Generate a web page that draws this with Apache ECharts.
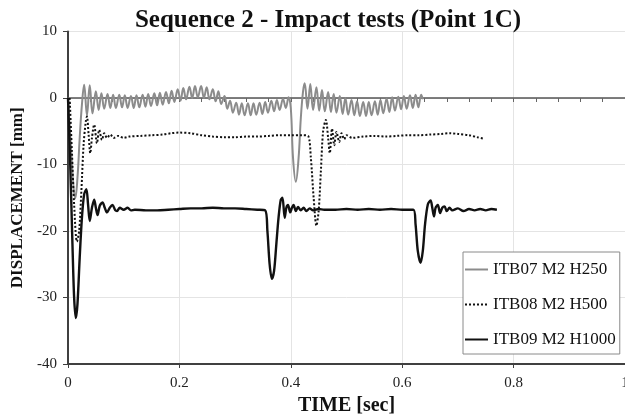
<!DOCTYPE html>
<html>
<head>
<meta charset="utf-8">
<script src="https://cdn.jsdelivr.net/npm/echarts@6/dist/echarts.min.js"></script>
<style>
html,body{margin:0;padding:0;background:#fff;}
#chart{width:625px;height:418px;}
</style>
</head>
<body>
<div id="chart"></div>
<script>
// ---- Data ----
const seriesNames = ['ITB07 M2 H250', 'ITB08 M2 H500', 'ITB09 M2 H1000'];
const xTickLabels = ['0', '0.2', '0.4', '0.6', '0.8', '1'];
const yTickLabels = ['-40', '-30', '-20', '-10', '0', '10'];

// ITB07 M2 H250 (grey, solid)
const itb07Time = [
  0, 0.005, 0.010, 0.013, 0.017, 0.021, 0.025, 0.029,
  0.034, 0.039, 0.044, 0.050, 0.055, 0.060, 0.065, 0.071, 0.076, 0.081,
  0.086, 0.092, 0.097, 0.102, 0.107, 0.113, 0.118, 0.123, 0.128, 0.134,
  0.139, 0.144, 0.149, 0.155, 0.160, 0.165, 0.170, 0.176, 0.181, 0.186,
  0.191, 0.197, 0.202, 0.207, 0.212, 0.218, 0.223, 0.228, 0.233, 0.239,
  0.244, 0.249, 0.254, 0.260, 0.265, 0.270, 0.275, 0.281, 0.286, 0.291,
  0.296, 0.302, 0.307, 0.312, 0.317, 0.323, 0.328, 0.333, 0.338, 0.344,
  0.349, 0.354, 0.359, 0.365, 0.370, 0.375, 0.380, 0.386, 0.391, 0.396,
  0.400, 0.404, 0.409, 0.414, 0.418, 0.422, 0.425,
  0.430, 0.435, 0.440, 0.446, 0.451, 0.456, 0.461, 0.467, 0.472, 0.477,
  0.482, 0.488, 0.493, 0.498, 0.503, 0.509, 0.514, 0.519, 0.524, 0.530,
  0.535, 0.540, 0.545, 0.551, 0.556, 0.561, 0.566, 0.572, 0.577, 0.582,
  0.587, 0.593, 0.598, 0.603, 0.608, 0.614, 0.619, 0.624, 0.629, 0.634, 0.637
];
const itb07Disp = [
  0, -7, -13.5, -15.1, -12, -6, -1, 2.0,
  -2.6, 1.9, -2.3, 1.0, -1.8, 0.7, -1.6, 0.6, -1.5, 0.5,
  -1.5, 0.5, -1.4, 0.4, -1.5, 0.3, -1.5, 0.4, -1.4, 0.5,
  -1.3, 0.6, -1.2, 0.7, -1.1, 0.8, -1.0, 0.9, -0.8, 1.1,
  -0.6, 1.3, -0.4, 1.5, -0.2, 1.7, 0.0, 1.8, 0.1, 1.8,
  0.0, 1.6, -0.2, 1.3, -0.5, 1.0, -0.9, 0.3, -1.6, -0.4,
  -2.2, -0.7, -2.5, -0.8, -2.6, -0.8, -2.6, -0.8, -2.5, -0.7,
  -2.4, -0.6, -2.2, -0.4, -2.0, -0.3, -1.8, -0.1, -1.5, 0.1,
  -1.5, -9, -12.6, -9, -3, 1, 2.2,
  -1.6, 2.1, -1.8, 1.6, -1.9, 1.2, -2.0, 0.9, -2.1, 0.6,
  -2.2, 0.3, -2.4, 0.0, -2.5, -0.3, -2.6, -0.5, -2.7, -0.6,
  -2.7, -0.6, -2.6, -0.5, -2.5, -0.3, -2.3, -0.1, -2.1, 0.1,
  -1.9, 0.2, -1.7, 0.3, -1.6, 0.4, -1.5, 0.5, -1.4, 0.5, -0.2
];

// ITB08 M2 H500 (black, dotted)
const itb08Time = [
  0.003, 0.007, 0.011, 0.016, 0.020, 0.024, 0.028, 0.032, 0.034, 0.037,
  0.040, 0.043, 0.047, 0.052, 0.056, 0.061, 0.065, 0.070, 0.076, 0.082,
  0.090, 0.100, 0.110, 0.130, 0.150, 0.170, 0.185, 0.200, 0.220, 0.240,
  0.260, 0.280, 0.300, 0.320, 0.340, 0.360, 0.380, 0.400, 0.420, 0.431,
  0.436, 0.441, 0.446, 0.450, 0.454, 0.458, 0.463, 0.467, 0.470, 0.474,
  0.478, 0.482, 0.487, 0.491, 0.496, 0.500, 0.510, 0.530, 0.550, 0.570,
  0.590, 0.610, 0.630, 0.650, 0.670, 0.686, 0.700, 0.720, 0.735, 0.746
];
const itb08Disp = [
  0, -8, -16, -21.6, -20, -14, -7, -3.5, -2.8, -5.5,
  -8.3, -6, -4.0, -6.8, -4.8, -6.3, -5.3, -6.0, -5.5, -6.0,
  -5.7, -6.0, -5.8, -5.7, -5.6, -5.5, -5.3, -5.2, -5.3, -5.6,
  -5.8, -5.9, -5.9, -5.8, -5.8, -5.7, -5.6, -5.6, -5.6, -5.7,
  -9, -15, -19.2, -17, -11, -5, -3.3, -6, -8.3, -4.6,
  -7.1, -5.1, -6.6, -5.3, -6.2, -5.6, -6.0, -5.8, -5.7, -5.8,
  -5.7, -5.6, -5.6, -5.5, -5.4, -5.3, -5.4, -5.6, -5.9, -6.1
];

// ITB09 M2 H1000 (black, solid)
const itb09Time = [
  0, 0.004, 0.008, 0.011, 0.014, 0.017, 0.021, 0.025, 0.029, 0.033,
  0.036, 0.039, 0.043, 0.047, 0.050, 0.053, 0.057, 0.062, 0.066, 0.070,
  0.075, 0.080, 0.085, 0.088, 0.093, 0.100, 0.107, 0.113, 0.120, 0.140,
  0.160, 0.180, 0.200, 0.220, 0.240, 0.260, 0.280, 0.300, 0.320, 0.340,
  0.354, 0.358, 0.362, 0.366, 0.370, 0.374, 0.378, 0.382, 0.385, 0.389,
  0.392, 0.395, 0.399, 0.402, 0.405, 0.409, 0.413, 0.418, 0.423, 0.428,
  0.434, 0.440, 0.450, 0.460, 0.480, 0.500, 0.520, 0.540, 0.560, 0.580,
  0.600, 0.620, 0.624, 0.628, 0.633, 0.637, 0.641, 0.646, 0.651, 0.654,
  0.657, 0.660, 0.664, 0.668, 0.672, 0.676, 0.680, 0.685, 0.690, 0.700,
  0.710, 0.720, 0.730, 0.740, 0.750, 0.760, 0.770
];
const itb09Disp = [
  0, -10, -22, -30, -33.1, -31, -24, -18, -14.5, -13.7,
  -16, -18.5, -16.5, -15.3, -16.5, -17.6, -16.2, -15.7, -16.5, -17.2,
  -16.5, -16.1, -16.9, -17.0, -16.5, -16.8, -16.5, -16.9, -16.8, -16.9,
  -16.9, -16.8, -16.7, -16.6, -16.6, -16.5, -16.6, -16.6, -16.7, -16.8,
  -16.9, -20, -25, -27.2, -26, -22, -18, -15.3, -15.0, -18.0,
  -16.5, -16.1, -17.2, -16.5, -16.1, -17.0, -16.4, -16.9, -16.5, -17.0,
  -16.6, -16.9, -16.7, -16.8, -16.8, -16.7, -16.8, -16.7, -16.8, -16.7,
  -16.8, -16.8, -19, -23, -24.8, -23, -19, -16, -15.4, -16.5,
  -17.8, -16.5, -16.1, -17.3, -16.5, -16.3, -17.0, -16.5, -16.9, -16.6,
  -17.0, -16.7, -16.9, -16.7, -16.9, -16.7, -16.8
];

// ---- Build ----
function zip(t, v) { return t.map((x, i) => [x, v[i]]); }
const FONT = '"Liberation Serif", "DejaVu Serif", serif';
const chart = echarts.init(document.getElementById('chart'), null, {renderer: 'canvas'});

chart.setOption({
  animation: false,
  backgroundColor: '#ffffff',
  title: {
    text: 'Sequence 2 - Impact tests (Point 1C)',
    left: 323, top: 3, textAlign: 'center',
    textStyle: {fontFamily: FONT, fontWeight: 'bold', fontSize: 25, color: '#111'}
  },
  legend: {
    orient: 'vertical', left: 463, top: 252,
    padding: [9, 4, 6, 1], itemGap: 18, itemWidth: 23, itemHeight: 17,
    borderColor: '#8a8a8a', borderWidth: 1, backgroundColor: '#ffffff',
    itemStyle: {opacity: 0},
    textStyle: {fontFamily: FONT, fontSize: 17, color: '#111'},
    data: seriesNames
  },
  grid: {left: 68, right: 0, top: 31.5, bottom: 54, containLabel: false, outerBoundsMode: 'none'},
  xAxis: [{
    type: 'value', min: 0, max: 1, interval: 0.2, position: 'bottom',
    axisLine: {onZero: false, lineStyle: {color: '#404040', width: 2}},
    axisTick: {show: true, length: 4, lineStyle: {color: '#404040'}},
    axisLabel: {
      margin: 12, fontFamily: FONT, fontSize: 15, color: '#222',
      formatter: function (v) { return xTickLabels[Math.round(v / 0.2)]; }
    },
    splitLine: {show: true, lineStyle: {color: '#e4e4e4', width: 1}},
    name: 'TIME [sec]', nameLocation: 'middle', nameGap: 29,
    nameTextStyle: {fontFamily: FONT, fontWeight: 'bold', fontSize: 20, color: '#111'}
  }, {
    type: 'value', min: 0, max: 1, interval: 0.04, position: 'bottom',
    axisLine: {show: true, onZero: true, lineStyle: {color: '#555', width: 1.5}},
    axisTick: {show: true, length: 4, lineStyle: {color: '#666'}},
    axisLabel: {show: false},
    splitLine: {show: false}
  }],
  yAxis: {
    type: 'value', min: -40, max: 10, interval: 10,
    axisLine: {show: true, onZero: false, lineStyle: {color: '#404040', width: 2}},
    axisTick: {show: true, length: 5, lineStyle: {color: '#404040'}},
    axisLabel: {
      margin: 11, fontFamily: FONT, fontSize: 15, color: '#222',
      formatter: function (v) { return yTickLabels[Math.round((v + 40) / 10)]; }
    },
    splitLine: {show: true, lineStyle: {color: '#e4e4e4', width: 1}},
    name: 'DISPLACEMENT [mm]', nameLocation: 'middle', nameGap: 39,
    nameTextStyle: {fontFamily: FONT, fontWeight: 'bold', fontSize: 17, color: '#111'}
  },
  series: [{
    name: seriesNames[0], type: 'line', xAxisIndex: 0, symbol: 'none', smooth: 0.4,
    data: zip(itb07Time, itb07Disp),
    lineStyle: {color: '#8c8c8c', width: 2}, itemStyle: {color: '#8c8c8c'}
  }, {
    name: seriesNames[1], type: 'line', xAxisIndex: 0, symbol: 'none', smooth: 0.3,
    data: zip(itb08Time, itb08Disp),
    lineStyle: {color: '#111', width: 2, type: [2, 2]}, itemStyle: {color: '#111'}
  }, {
    name: seriesNames[2], type: 'line', xAxisIndex: 0, symbol: 'none', smooth: 0.3,
    data: zip(itb09Time, itb09Disp),
    lineStyle: {color: '#111', width: 2.4}, itemStyle: {color: '#111'}
  }]
});
</script>
</body>
</html>
